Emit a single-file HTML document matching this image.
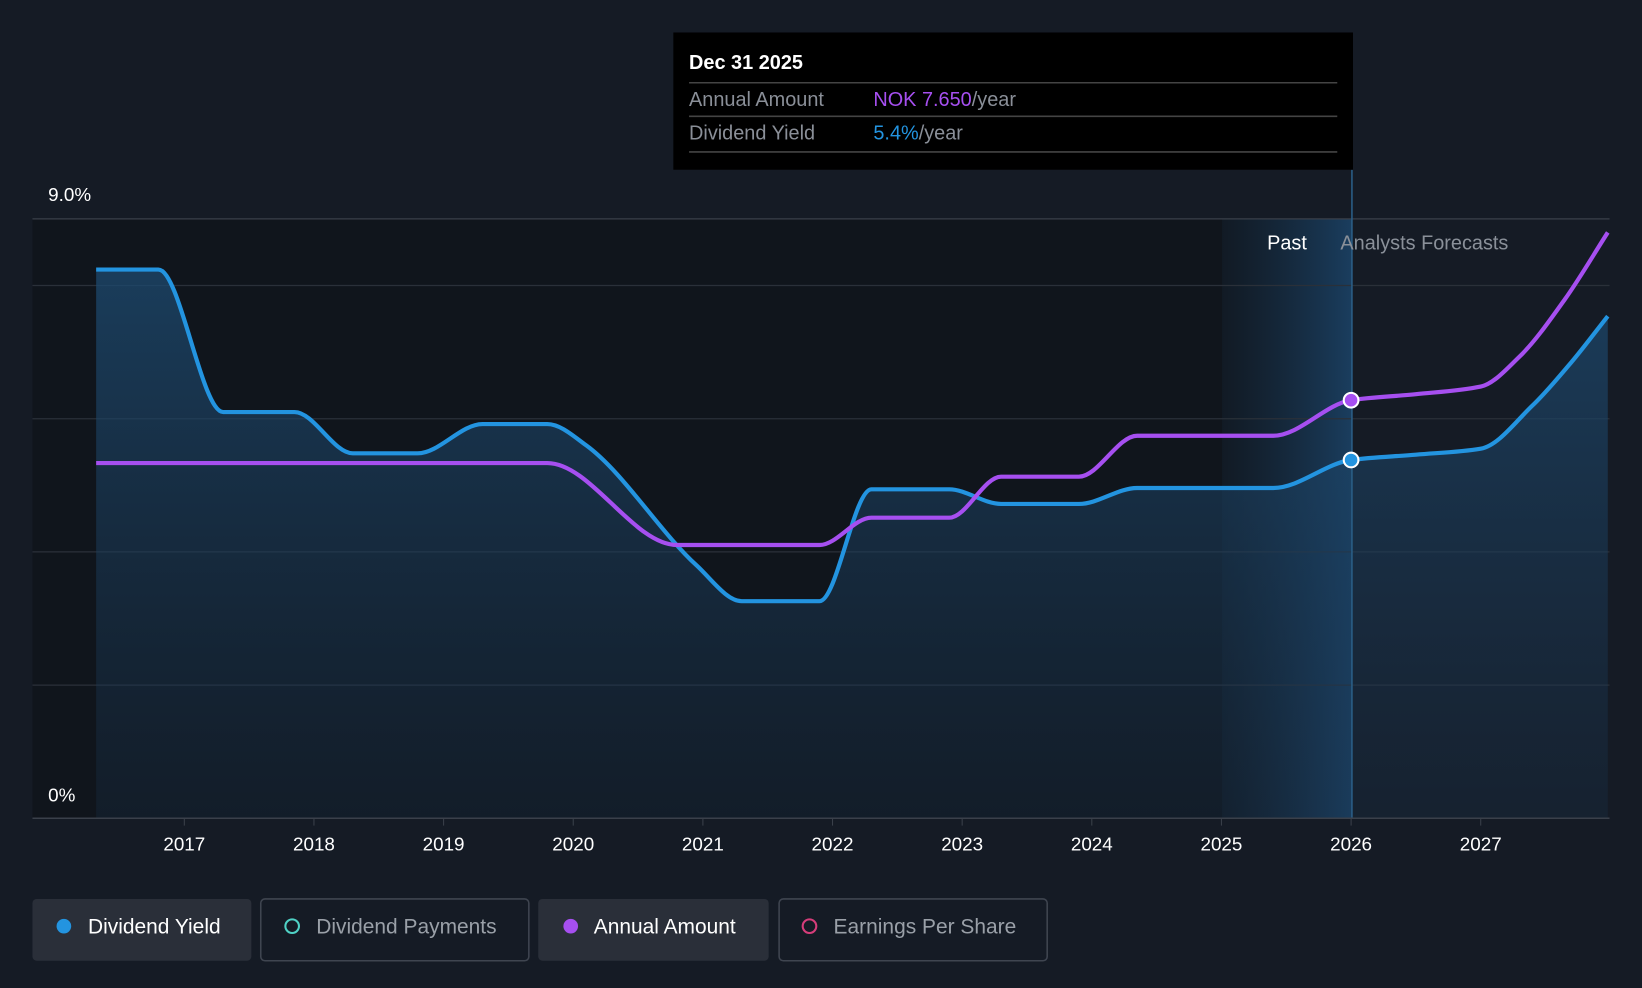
<!DOCTYPE html>
<html><head><meta charset="utf-8"><style>
html,body{margin:0;padding:0;background:#151b25;width:1642px;height:988px;overflow:hidden}
svg{display:block;font-family:"Liberation Sans",sans-serif}
</style></head><body>
<svg id="chart" width="1642" height="988" viewBox="0 0 1568 943" preserveAspectRatio="none">
<defs>
<linearGradient id="ag" x1="0" y1="0" x2="0" y2="1"><stop offset="0" stop-color="#1d4a70" stop-opacity="0.75"/><stop offset="1" stop-color="#1a3550" stop-opacity="0.25"/></linearGradient>
<linearGradient id="pg" x1="0" y1="0" x2="1" y2="0"><stop offset="0" stop-color="#173048" stop-opacity="0.2"/><stop offset="1" stop-color="#1b4266" stop-opacity="0.9"/></linearGradient>
</defs>
<rect x="0" y="0" width="1568" height="943" fill="#151b25"/>
<rect x="31" y="209" width="1260" height="572" fill="#10151c"/>
<rect x="1167" y="209" width="124" height="572" fill="url(#pg)"/>
<g id="grid"></g>
<path id="yieldArea" fill="url(#ag)"/>
<path id="yieldLine" fill="none" stroke="#2394e0" stroke-width="4"/>
<path id="amtLine" fill="none" stroke="#a64ff0" stroke-width="4"/>
<line x1="1291" y1="162" x2="1291" y2="781" stroke="#2a5e86" stroke-width="1.5"/>
<g id="dots"></g>
<text x="1248" y="238" fill="#fff" font-size="19" text-anchor="end">Past</text>
<text x="1280" y="238" fill="#8a9099" font-size="19">Analysts Forecasts</text>
<text x="46" y="192" fill="#fff" font-size="18">9.0%</text>
<text x="46" y="765" fill="#fff" font-size="18">0%</text>
<line x1="31" y1="781" x2="1537" y2="781" stroke="#3a404a" stroke-width="1.5"/>
<g id="xt"></g>
<g>
<rect x="643" y="31" width="649" height="131" fill="#000"/>
<text x="658" y="66" fill="#fff" font-size="19" font-weight="bold">Dec 31 2025</text>
<line x1="658" y1="79" x2="1277" y2="79" stroke="#444" stroke-width="1.5"/>
<text x="658" y="101" fill="#8a8f98" font-size="19">Annual Amount</text>
<text x="834" y="101" font-size="19"><tspan fill="#a64ff0">NOK 7.650</tspan><tspan fill="#8a8f98">/year</tspan></text>
<line x1="658" y1="111" x2="1277" y2="111" stroke="#444" stroke-width="1.5"/>
<text x="658" y="133" fill="#8a8f98" font-size="19">Dividend Yield</text>
<text x="834" y="133" font-size="19"><tspan fill="#2394e0">5.4%</tspan><tspan fill="#8a8f98">/year</tspan></text>
<line x1="658" y1="145" x2="1277" y2="145" stroke="#444" stroke-width="1.5"/>
</g>
<g>
<g><rect x="31" y="858" width="209" height="59" rx="4" fill="#2a2f39"/><circle cx="61" cy="884" r="7" fill="#2394e0"/><text x="84" y="891" fill="#fff" font-size="20">Dividend Yield</text></g>
<g><rect x="249" y="858" width="256" height="59" rx="4" fill="none" stroke="#3f4550" stroke-width="1.5"/><circle cx="279" cy="884" r="6.5" fill="none" stroke="#4fd1c5" stroke-width="2"/><text x="302" y="891" fill="#9aa0a8" font-size="20">Dividend Payments</text></g>
<g><rect x="514" y="858" width="220" height="59" rx="4" fill="#2a2f39"/><circle cx="545" cy="884" r="7" fill="#a64ff0"/><text x="567" y="891" fill="#fff" font-size="20">Annual Amount</text></g>
<g><rect x="744" y="858" width="256" height="59" rx="4" fill="none" stroke="#3f4550" stroke-width="1.5"/><circle cx="773" cy="884" r="6.5" fill="none" stroke="#d63d7a" stroke-width="2"/><text x="796" y="891" fill="#9aa0a8" font-size="20">Earnings Per Share</text></g>
</g>
</svg>
<script>
const yieldT=[2016.32,2016.8,2017.3,2017.85,2018.3,2018.8,2019.3,2019.8,2020.1,2020.95,2021.3,2021.9,2022.3,2022.9,2023.3,2023.9,2024.35,2025.4,2026.0,2026.5,2027.0,2027.4,2027.7,2027.98];
const yieldV=[8.24,8.24,6.1,6.1,5.48,5.48,5.92,5.92,5.6,3.8,3.26,3.26,4.94,4.94,4.72,4.72,4.96,4.96,5.38,5.46,5.55,6.2,6.85,7.54];
const amtT=[2016.32,2019.8,2020.8,2021.9,2022.3,2022.9,2023.3,2023.9,2024.35,2025.4,2026.0,2026.5,2027.0,2027.3,2027.65,2027.98];
const amtV=[6.5,6.5,5.0,5.0,5.5,5.5,6.25,6.25,7.0,7.0,7.65,7.76,7.9,8.45,9.5,10.72];
const yearTicks=[2017,2018,2019,2020,2021,2022,2023,2024,2025,2026,2027];
const gridPct=[2,4,6,8,9];
const X=t=>176+(t-2017)*123.8;
const Y=v=>781-v*63.56;
const YA=v=>781-v*52.16;
const ns="http://www.w3.org/2000/svg";
function path(T,V,fy){
  const n=T.length,xs=T.map(X),ys=V.map(fy),d=[],m=[];
  for(let i=0;i<n-1;i++)d.push((ys[i+1]-ys[i])/(xs[i+1]-xs[i]));
  m[0]=0;m[n-1]=d[n-2];
  for(let i=1;i<n-1;i++){m[i]=(d[i-1]*d[i]<=0)?0:2/(1/d[i-1]+1/d[i]);}
  let p="M"+xs[0]+","+ys[0];
  for(let i=0;i<n-1;i++){const h=(xs[i+1]-xs[i])/3;
    p+=" C"+(xs[i]+h)+","+(ys[i]+m[i]*h)+" "+(xs[i+1]-h)+","+(ys[i+1]-m[i+1]*h)+" "+xs[i+1]+","+ys[i+1];}
  return p;}
const yp=path(yieldT,yieldV,Y);
document.getElementById('yieldLine').setAttribute('d',yp);
document.getElementById('yieldArea').setAttribute('d',yp+" L"+X(yieldT[yieldT.length-1])+",781 L"+X(yieldT[0])+",781 Z");
document.getElementById('amtLine').setAttribute('d',path(amtT,amtV,YA));
const g=document.getElementById('grid');
gridPct.forEach(p=>{const l=document.createElementNS(ns,'line');


l.setAttribute('x1',31);l.setAttribute('x2',1537);l.setAttribute('y1',Y(p));l.setAttribute('y2',Y(p));l.setAttribute('stroke',p==9?'#3a404a':'#2a3039');l.setAttribute('stroke-width',1.2);g.appendChild(l);});
const xt=document.getElementById('xt');
yearTicks.forEach(y=>{const t=document.createElementNS(ns,'text');


t.setAttribute('x',X(y));t.setAttribute('y',812);t.setAttribute('fill','#fff');t.setAttribute('font-size','18');t.setAttribute('text-anchor','middle');t.textContent=y;xt.appendChild(t);
const l=document.createElementNS(ns,'line');


l.setAttribute('x1',X(y));l.setAttribute('x2',X(y));l.setAttribute('y1',781);l.setAttribute('y2',788);l.setAttribute('stroke','#3a404a');xt.appendChild(l);});
const dots=document.getElementById('dots');
[[Y(yieldV[18]),'#2394e0','yield-marker'],[YA(amtV[10]),'#a64ff0','amount-marker']].forEach(a=>{const c=document.createElementNS(ns,'circle');


c.setAttribute('cx',X(2026));c.setAttribute('cy',a[0]);c.setAttribute('r',7);c.setAttribute('fill',a[1]);c.setAttribute('stroke','#fff');c.setAttribute('stroke-width',2);dots.appendChild(c);});
</script>
</body></html>
